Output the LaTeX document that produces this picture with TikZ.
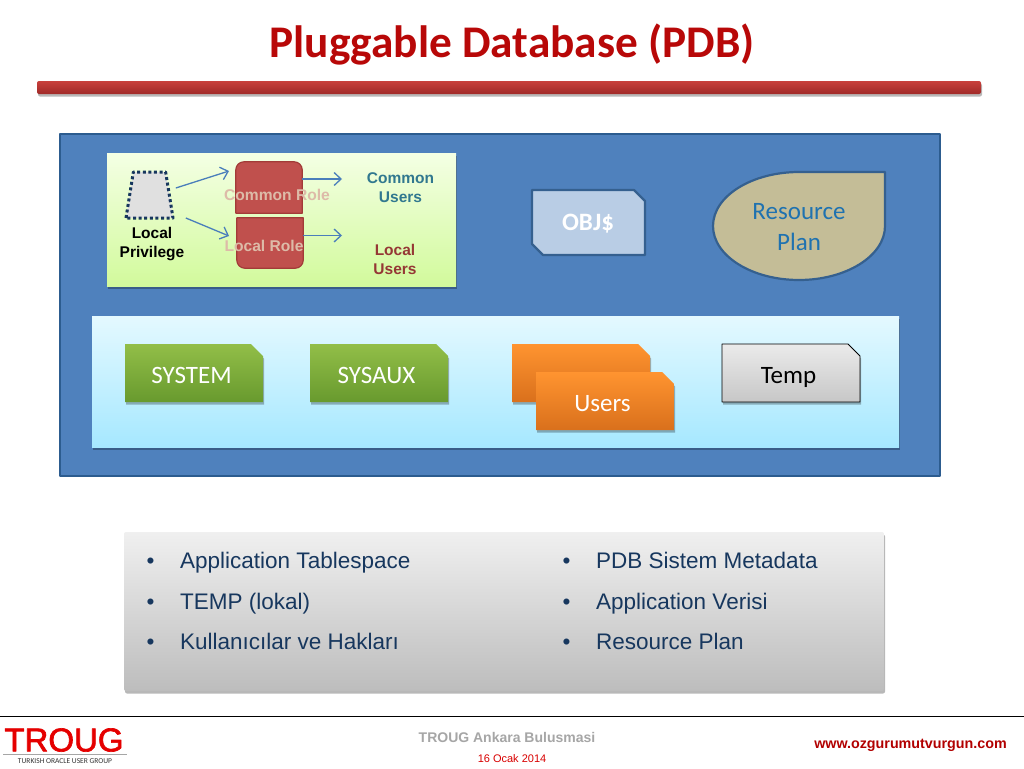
\documentclass[tikz,border=0pt]{standalone}
\usepackage{fontspec}
\setmainfont{Carlito}
\newfontfamily\arialfont{Liberation Sans}
\newfontfamily\logofont[FakeBold=2]{Liberation Sans}
\usetikzlibrary{arrows.meta,shadows,shapes.geometric}
\definecolor{panelblue}{HTML}{4F81BD}
\definecolor{paneledge}{HTML}{2C5C8F}
\definecolor{titlered}{HTML}{B80808}
\definecolor{rolered}{HTML}{C0504D}
\definecolor{roleedge}{HTML}{A23B38}
\definecolor{rolelabel}{HTML}{DDBBA8}
\definecolor{navytext}{HTML}{17375E}
\definecolor{tealtext}{HTML}{31788F}
\definecolor{browntext}{HTML}{953735}
\definecolor{arrowblue}{HTML}{4A7EBB}
\definecolor{planfill}{HTML}{C4BD97}
\definecolor{planedge}{HTML}{35608F}
\definecolor{plantext}{HTML}{1F72B0}
\definecolor{panelgreenA}{HTML}{92BE48}
\definecolor{panelgreenB}{HTML}{689A2E}
\definecolor{orangeA}{HTML}{FF9430}
\definecolor{orangeB}{HTML}{D9701C}
\definecolor{limeA}{HTML}{F4FFE4}
\definecolor{limeB}{HTML}{D2FA9C}
\definecolor{skyA}{HTML}{E4F9FF}
\definecolor{skyB}{HTML}{A6E8FF}
\definecolor{barA}{HTML}{C8403C}
\definecolor{barB}{HTML}{A02A28}
\definecolor{objfill}{HTML}{B9CDE5}
\tikzset{
	softshadow/.style={drop shadow={shadow xshift=1pt, shadow yshift=-2.5pt, opacity=0.28, fill=black}},
	rolebox/.style={fill=rolered, draw=roleedge, line width=1.2pt},
	rolelbl/.style={font=\arialfont\bfseries\fontsize{15.6}{17}\selectfont, text=rolelabel, inner sep=0pt},
	smalllbl/.style={font=\arialfont\bfseries\fontsize{15.5}{18.5}\selectfont, align=center, inner sep=0pt},
	flow/.style={-{Straight Barb[length=7pt,width=13pt]}, arrowblue, line width=1.3pt},
	greenbox/.style={top color=panelgreenA, bottom color=panelgreenB, softshadow},
	orangebox/.style={top color=orangeA, bottom color=orangeB, softshadow},
	graybox/.style={top color=white!92!black, bottom color=black!22, draw=black, line width=0.8pt, softshadow},
	boxtext/.style={font=\fontsize{25}{28}\selectfont, text=white, inner sep=0pt, anchor=base},
	itemtxt/.style={font=\arialfont\fontsize{22.5}{26}\selectfont, text=navytext, anchor=base west, inner sep=0pt},
}
% kutu: sag ust kosesi kesik
\newcommand{\snipbox}[5]{
	\path[#2] (#3,#4) ++(-69,-29) -- ++(126,0) -- ++(12,12) -- ++(0,46) -- ++(-138,0) -- cycle;
	\path (#3,#4) ++(-2.5,10.5) node[boxtext] (#1) {#5};
}
\newcommand{\bulletitem}[4]{
	\node[itemtxt] (#1) at (#2,#3) {\makebox[33.5pt][l]{\textbullet}#4};
}
\begin{document}
\begin{tikzpicture}[x=1pt, y=-1pt, line join=round]
	\useasboundingbox (0,0) rectangle (1024,768);
	\fill[white] (0,0) rectangle (1024,768);
	
	% Baslik
	\node[font=\bfseries\fontsize{45.3}{50}\selectfont, text=titlered, inner sep=0pt] (title) at (512,44.5) {Pluggable Database (PDB)};
	\path[top color=barA, bottom color=barB, rounded corners=2pt, softshadow] (37,81) rectangle (981,94);
	
	% Mavi panel
	\draw[fill=panelblue, draw=paneledge, line width=2.5pt] (60,134) rectangle (940,476);
	
	% Yesil panel
	\path[top color=limeA, bottom color=limeB, softshadow] (107,153) rectangle (456,286);
	\node[trapezium, trapezium left angle=78, trapezium right angle=78, minimum width=47pt, minimum height=46pt, inner sep=1pt, trapezium stretches=true, fill=black!12, draw=navytext, dash pattern=on 3pt off 2.6pt, line width=3pt] (localpriv) at (149.5,195) {\phantom{x}};
	\node[smalllbl, text=black] (privlabel) at (152,244) {Local\\Privilege};
	
	% Roller
	\node[minimum width=66pt, minimum height=51pt, inner sep=0pt] (commonbox) at (269,187.5) {};
	\node[minimum width=66pt, minimum height=50pt, inner sep=0pt] (localbox) at (270,243) {};
	\draw[rolebox] (commonbox.south west) [rounded corners=8pt] -- (commonbox.north west) -- (commonbox.north east) [sharp corners] -- (commonbox.south east) -- cycle;
	\draw[rolebox] (localbox.north west) [rounded corners=8pt] -- (localbox.south west) -- (localbox.south east) [sharp corners] -- (localbox.north east) -- cycle;
	\node[rolelbl] (commonrole) at (277,195) {Common Role};
	\node[rolelbl] (localrole) at (264,245.5) {Local Role};
	\node[smalllbl, text=tealtext] (commonusers) at (400.5,187.5) {Common\\Users};
	\node[smalllbl, text=browntext] (localusers) at (395,259.5) {Local\\Users};
	\coordinate (commontip) at (229,171);
	\coordinate (localtip) at (229,236);
	\coordinate (usertipA) at (342,179);
	\coordinate (usertipB) at (342,235.5);
	\draw[flow] ([xshift=5pt,yshift=7pt]localpriv.east) -- (commontip);
	\draw[flow] ([xshift=15pt,yshift=-23pt]localpriv.east) -- (localtip);
	\draw[flow] (commonbox.east |- usertipA) -- (usertipA);
	\draw[flow] (localbox.east |- usertipB) -- (usertipB);
	
	% OBJ$
	\draw[fill=objfill, draw=planedge, line width=2.2pt] (532,190) -- (634,190) -- (645,201) -- (645,255) -- (543,255) -- (532,244) -- cycle;
	\node[font=\bfseries\fontsize{25}{28}\selectfont, text=white, inner sep=0pt] (objnode) at (588,224) {OBJ\$};
	
	% Resource Plan
	\draw[fill=planfill, draw=planedge, line width=2.2pt] (885,172) -- (799,172) .. controls (752,172) and (713,196) .. (713,226) .. controls (713,256) and (752,280) .. (799,280) .. controls (846,280) and (885,256) .. (885,226) -- cycle;
	\node[font=\fontsize{25}{31}\selectfont, text=plantext, align=center, inner sep=0pt] (plannode) at (799,227) {Resource\\Plan};
	
	% Acik mavi panel
	\path[top color=skyA, bottom color=skyB, softshadow] (92,316) rectangle (899,447);
	\snipbox{systemnode}{greenbox}{194}{373}{SYSTEM}
	\snipbox{sysauxnode}{greenbox}{379}{373}{SYSAUX}
	\snipbox{backnode}{orangebox}{581}{373}{}
	\snipbox{usersnode}{orangebox}{605}{401}{Users}
	\snipbox{tempnode}{graybox}{791}{373}{\textcolor{black}{Temp}}
	
	% Alt gri panel
	\path[top color=white!94!black, bottom color=black!26, rounded corners=2pt, softshadow] (124,532) rectangle (884,691);
	\bulletitem{itemA}{146.5}{568.5}{Application Tablespace}
	\bulletitem{itemB}{146.5}{609}{TEMP (lokal)}
	\bulletitem{itemC}{146.5}{649.5}{Kullanıcılar ve Hakları}
	\bulletitem{itemD}{562.5}{568.5}{PDB Sistem Metadata}
	\bulletitem{itemE}{562.5}{609}{Application Verisi}
	\bulletitem{itemF}{562.5}{649.5}{Resource Plan}
	
	% Alt bilgi
	\draw[black, line width=1pt] (0,716) -- (1024,716);
	\node[font=\logofont\fontsize{33}{34}\selectfont, text=red!90!black, inner sep=0pt] (troug) at (64,740) {TROUG};
	\draw[black!35, line width=0.8pt] (3,754) -- (127,754);
	\node[font=\fontsize{7.5}{8}\selectfont, text=black!80, inner sep=0pt] (trougsub) at (65,761) {TURKISH ORACLE USER GROUP};
	\node[font=\arialfont\bfseries\fontsize{14}{15}\selectfont, text=black!35, inner sep=0pt] (meeting) at (507,737) {TROUG Ankara Bulusmasi};
	\node[font=\arialfont\fontsize{11}{13}\selectfont, text=red!85!black, inner sep=0pt] (datenode) at (512,759) {16 Ocak 2014};
	\node[font=\arialfont\bfseries\fontsize{14.3}{15}\selectfont, text=red!70!black, inner sep=0pt] (website) at (910.5,745) {www.ozgurumutvurgun.com};
\end{tikzpicture}
\end{document}
